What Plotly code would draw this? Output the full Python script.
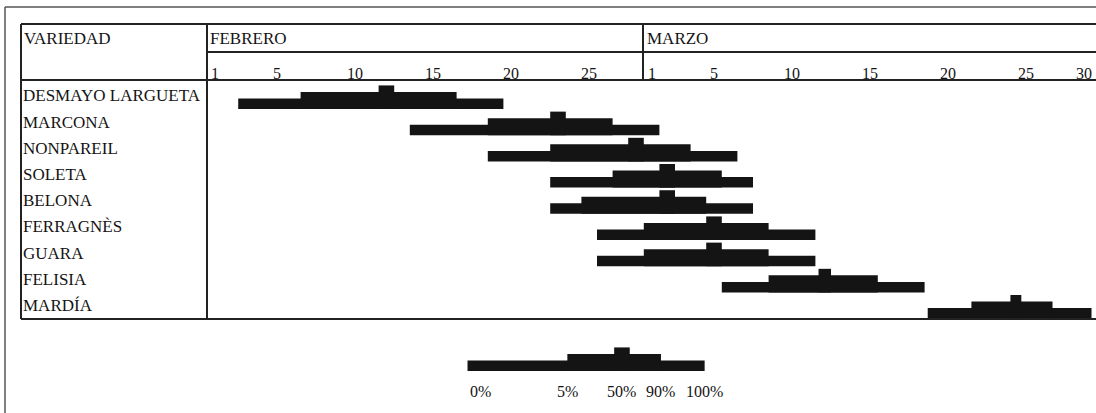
import plotly.graph_objects as go

# ---------------- data ----------------
VARIETIES = ["DESMAYO LARGUETA", "MARCONA", "NONPAREIL", "SOLETA", "BELONA",
             "FERRAGNÈS", "GUARA", "FELISIA", "MARDÍA"]
# flowering stages, in days counted from the start of 1 February (Feb: 0-28, Mar: 28-)
START_0 = [2, 13, 18, 22, 22, 25, 25, 33, 46.2]        # 0 %
STAGE_5 = [6, 18, 22, 26, 24, 28, 28, 36, 49]          # 5 %
PEAK_FROM = [11, 22, 27, 29, 29, 32, 32, 39.2, 51.5]   # 50 % (start)
PEAK_TO = [12, 23, 28, 30, 30, 33, 33, 40, 52.2]       # 50 % (end)
STAGE_90 = [16, 26, 31, 33, 32, 36, 36, 43, 54.2]      # 90 %
END_100 = [19, 29, 34, 35, 35, 39, 39, 46, 56.7]       # 100 %

LEGEND_STAGES = [16.7, 23.1, 26.1, 27.1, 29.1, 31.9]   # 0%, 5%, 50% from/to, 90%, 100%
LEGEND_LABELS = ["0%", "5%", "50%", "90%", "100%"]

MONTHS = ["FEBRERO", "MARZO"]
MONTH_OFFSET = [0, 28]
FEB_TICKS = [1, 5, 10, 15, 20, 25]
MAR_TICKS = [1, 5, 10, 15, 20, 25, 30]

# ---------------- layout helpers ----------------
W, H = 1096, 413
PX_PER_DAY = 15.6
X0_PX = 207
X_MAX = (W - X0_PX) / PX_PER_DAY
ROW_PX = 26.2
ROW0_BOTTOM_PX = 109
Y_TOP = -ROW0_BOTTOM_PX / ROW_PX
Y_BOT = (H - ROW0_BOTTOM_PX) / ROW_PX

def px(x):
    return x / W

def py(y):
    return 1 - y / H

INK = "#141414"
FONT = "Liberation Serif"

fig = go.Figure()

rows = list(range(len(VARIETIES)))
LAYERS = [(0.40, START_0, END_100), (0.65, STAGE_5, STAGE_90), (0.90, PEAK_FROM, PEAK_TO)]
for h, a, b in LAYERS:
    fig.add_trace(go.Bar(
        orientation="h", y=rows, base=a, x=[e - s for s, e in zip(a, b)],
        width=h, offset=-h, marker=dict(color=INK, line=dict(width=0)),
        showlegend=False, hoverinfo="skip"))

# legend (schematic bar)
LEG_ROW = 10
leg_layers = [(0.40, LEGEND_STAGES[0], LEGEND_STAGES[5]),
              (0.65, LEGEND_STAGES[1], LEGEND_STAGES[4]),
              (0.90, LEGEND_STAGES[2], LEGEND_STAGES[3])]
for h, a, b in leg_layers:
    fig.add_trace(go.Bar(
        orientation="h", y=[LEG_ROW], base=[a], x=[b - a],
        width=h, offset=-h, marker=dict(color=INK, line=dict(width=0)),
        showlegend=False, hoverinfo="skip"))

leg_pos = [LEGEND_STAGES[0], LEGEND_STAGES[1], (LEGEND_STAGES[2] + LEGEND_STAGES[3]) / 2,
           LEGEND_STAGES[4], LEGEND_STAGES[5]]
ann = []
for i, (lab, xp) in enumerate(zip(LEGEND_LABELS, leg_pos)):
    ann.append(dict(x=xp, y=LEG_ROW + 0.78, xref="x", yref="y", text=lab, showarrow=False,
                    xanchor="left" if i == 0 else "center", yanchor="middle",
                    font=dict(family=FONT, size=16, color=INK)))

# variety names
for i, name in enumerate(VARIETIES):
    ann.append(dict(x=px(21), y=i - 0.5, xref="paper", yref="y", text=name, showarrow=False,
                    xanchor="left", yanchor="middle",
                    font=dict(family=FONT, size=17, color=INK)))

# header texts
ann.append(dict(x=px(22), y=py(39), xref="paper", yref="paper", text="VARIEDAD",
                showarrow=False, xanchor="left", yanchor="middle",
                font=dict(family=FONT, size=17, color=INK)))
for m, off in zip(MONTHS, MONTH_OFFSET):
    ann.append(dict(x=off + 0.05, y=py(39), xref="x", yref="paper", text=m,
                    showarrow=False, xanchor="left", yanchor="middle",
                    font=dict(family=FONT, size=17, color=INK)))
for off, ticks in zip(MONTH_OFFSET, [FEB_TICKS, MAR_TICKS]):
    for d in ticks:
        xc = min(off + d - 0.5, X_MAX - 0.8)
        ann.append(dict(x=xc, y=py(73), xref="x", yref="paper", text=str(d),
                        showarrow=False, xanchor="center", yanchor="middle",
                        font=dict(family=FONT, size=16, color=INK)))

# table lines
shapes = []
def line(x0, y0, x1, y1, w=2, c="#222222"):
    shapes.append(dict(type="line", xref="paper", yref="paper",
                       x0=px(x0), y0=py(y0), x1=px(x1), y1=py(y1),
                       line=dict(color=c, width=w)))

line(5, 7, W, 7, 1.5, "#555555")      # outer frame
line(5, 7, 5, H, 1.5, "#555555")
line(21, 24, W, 24)                    # table top
line(207, 52, W, 52)
line(21, 80, W, 80)
line(21, 319, W, 319)
line(21, 24, 21, 319)
line(207, 24, 207, 319)
line(643, 24, 643, 80)

fig.update_layout(
    width=W, height=H, margin=dict(l=0, r=0, t=0, b=0),
    paper_bgcolor="white", plot_bgcolor="rgba(0,0,0,0)",
    barmode="overlay", showlegend=False,
    xaxis=dict(domain=[px(X0_PX), 1], range=[0, X_MAX], visible=False, fixedrange=True),
    yaxis=dict(domain=[0, 1], range=[Y_BOT, Y_TOP], visible=False, fixedrange=True),
    annotations=ann, shapes=shapes,
)

fig.write_html("out.html", config={"displayModeBar": False},
               post_script="document.body.style.margin='0';document.body.style.overflow='hidden';")
